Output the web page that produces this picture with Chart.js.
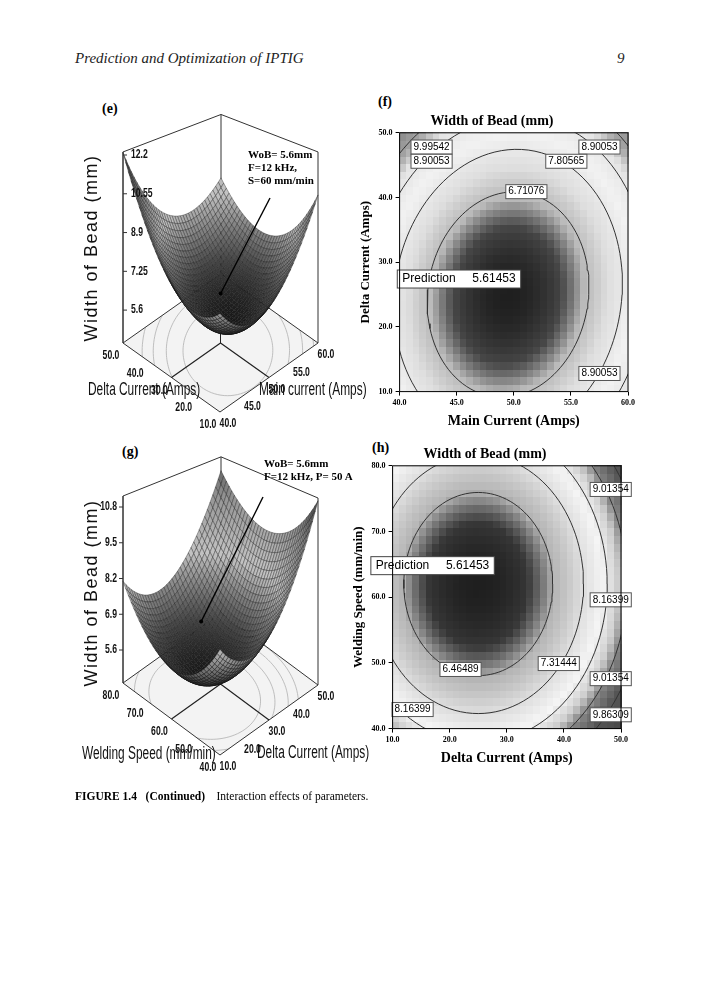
<!DOCTYPE html>
<html>
<head>
<meta charset="utf-8">
<script src="https://cdn.jsdelivr.net/npm/chart.js@4.4.1/dist/chart.umd.min.js"></script>
<style>
  body { margin: 0; background: #fff; }
  #page { position: relative; width: 701px; height: 1000px; overflow: hidden; font-family: 'Liberation Serif', serif; }
  .abs { position: absolute; white-space: nowrap; }
  canvas { position: absolute; }
  .hdr { font-style: italic; font-size: 15px; color: #222; }
  .let { font-weight: bold; font-size: 14px; }
  .note { font-weight: bold; font-size: 11px; line-height: 13px; }
  .ax3 { font-family: 'Liberation Sans', sans-serif; font-size: 18px; color: #111; transform-origin: 0 50%; transform: translateY(-50%) scaleX(0.66); }
  .zax { font-family: 'Liberation Sans', sans-serif; font-size: 18px; color: #111; letter-spacing: 1.5px; transform: translate(-50%,-50%) rotate(-90deg); }
</style>
</head>
<body>
<div id="page">
  <div class="abs hdr" style="left:75px;top:50px">Prediction and Optimization of IPTIG</div>
  <div class="abs hdr" style="left:617px;top:50px">9</div>

  <div class="abs let" style="left:102px;top:101px">(e)</div>
  <div class="abs let" style="left:378px;top:94px">(f)</div>
  <div class="abs let" style="left:122px;top:444px">(g)</div>
  <div class="abs let" style="left:372px;top:440px">(h)</div>

  <canvas id="chartE" style="left:60px;top:95px"></canvas>
  <canvas id="chartF" style="left:356px;top:110px"></canvas>
  <canvas id="chartG" style="left:60px;top:440px"></canvas>
  <canvas id="chartH" style="left:349px;top:443px"></canvas>

  <div class="abs note" style="left:248px;top:148px">WoB= 5.6mm<br>F=12 kHz,<br>S=60 mm/min</div>
  <div class="abs note" style="left:264px;top:457px">WoB= 5.6mm<br>F=12 kHz, P= 50 A</div>

  <div class="abs zax" style="left:91px;top:248px">Width of Bead (mm)</div>
  <div class="abs ax3" style="left:88px;top:389px">Delta Current (Amps)</div>
  <div class="abs ax3" style="left:259px;top:389px">Main current (Amps)</div>
  <div class="abs zax" style="left:91px;top:593px">Width of Bead (mm)</div>
  <div class="abs ax3" style="left:82px;top:753px">Welding Speed (mm/min)</div>
  <div class="abs ax3" style="left:257px;top:752px">Delta Current (Amps)</div>

  <div class="abs" style="left:75px;top:790px;font-size:11.5px"><b>FIGURE 1.4&nbsp;&nbsp;&nbsp;(Continued)</b>&nbsp;&nbsp;&nbsp;&nbsp;Interaction effects of parameters.</div>
</div>
<script>
// ---- data ----
const mainCurrentTicks = [40, 45, 50, 55, 60];
const deltaCurrentTicks = [10, 20, 30, 40, 50];
const weldSpeedTicks = [40, 50, 60, 70, 80];
const widthTicksE = [5.6, 7.25, 8.9, 10.55, 12.2];
const widthTicksG = [5.6, 6.9, 8.2, 9.5, 10.8];
const predictedWidth = 5.61453;

// quadratic models: [cx, cy, sx, sy, a, b, c, p, r, w0]
// W = w0 + a*u^2 + b*v^2 - c*u*v + p*u + r*v,  u=(x-cx)/sx, v=(y-cy)/sy

// contour plot (f): main current (x) vs delta current (y)
const levelsF = [6.71076, 7.80565, 8.90053, 9.99542];
const labelF_x = [42.8, 42.8, 57.5, 54.6, 51.1, 57.5];
const labelF_y = [47.8, 45.6, 47.8, 45.6, 40.9, 12.8];
const labelF_v = ['9.99542', '8.90053', '8.90053', '7.80565', '6.71076', '8.90053'];
const modelF = [49.5, 25, 10, 20, 2.2, 1.75, 0.3, 0, 0, predictedWidth];
const predF = [45.2, 27.4];

// contour plot (h): delta current (x) vs welding speed (y)
const levelsH = [6.46489, 7.31444, 8.16399, 9.01354, 9.86309];
const labelH_x = [48.2, 48.2, 39.1, 21.9, 48.2, 13.5, 48.2];
const labelH_y = [76.4, 59.6, 49.9, 49.0, 47.6, 42.9, 42.1];
const labelH_v = ['9.01354', '8.16399', '7.31444', '6.46489', '9.01354', '8.16399', '9.86309'];
const modelH = [25, 62, 20, 20, 2.0, 1.75, 0, 0, 0, predictedWidth];
const predH = [17.0, 64.8];

// 3D surfaces
const modelE = [50, 30, 10, 20, 2.2, 2.2, 1.475, -0.125, 0.775, 5.525]; // main, delta
const modelG = [30, 60, 20, 20, 2.2, 1.8, 0.225, 1.475, -0.025, 5.375]; // delta, speed
const floorLevelsE = [6.7, 7.8, 8.9, 10.0];
const floorLevelsG = [6.5, 7.3, 8.2, 9.0];
const pointerE = [52, 34];
const pointerG = [32, 70];

// grayscale stops (value -> gray level)
const stopsF_v = [5.6, 6.1, 6.6, 7.3, 8.3, 9.2, 9.8, 11];
const stopsF_g = [30, 70, 185, 222, 242, 228, 165, 125];
const stopsH_v = [5.6, 6.0, 6.5, 7.3, 8.0, 8.6, 9.0, 9.8, 11];
const stopsH_g = [30, 55, 180, 222, 245, 205, 135, 85, 70];
const stopsS_t = [0, 0.15, 0.45, 0.75, 1];
const stopsS_g = [25, 70, 195, 150, 75];

function width(m, x, y) {
  const u = (x - m[0]) / m[2], v = (y - m[1]) / m[3];
  return m[9] + m[4] * u * u + m[5] * v * v - m[6] * u * v + m[7] * u + m[8] * v;
}
function minOf(m) {
  const A = 2 * m[4], B = -m[6], C = 2 * m[5], det = A * C - B * B;
  const u = (-m[7] * C + m[8] * B) / det, v = (-m[8] * A + m[7] * B) / det;
  return { x: m[0] + u * m[2], y: m[1] + v * m[3], w: width(m, m[0] + u * m[2], m[1] + v * m[3]) };
}
function gray(val, sv, sg) {
  if (val <= sv[0]) return sg[0];
  for (let i = 1; i < sv.length; i++) {
    if (val <= sv[i]) {
      const t = (val - sv[i - 1]) / (sv[i] - sv[i - 1]);
      return Math.round(sg[i - 1] + t * (sg[i] - sg[i - 1]));
    }
  }
  return sg[sg.length - 1];
}
function contour(m, level) {
  const mn = minOf(m), d = level - mn.w, pts = [];
  for (let k = 0; k <= 120; k++) {
    const th = k / 120 * Math.PI * 2, cu = Math.cos(th), cv = Math.sin(th);
    const q = m[4] * cu * cu + m[5] * cv * cv - m[6] * cu * cv;
    const r = Math.sqrt(d / q);
    pts.push({ x: mn.x + r * cu * m[2], y: mn.y + r * cv * m[3] });
  }
  return pts;
}

// ---- contour charts ----
const heatPlugin = {
  id: 'heat',
  beforeDatasetsDraw(chart, args, o) {
    const { ctx, scales: { x, y } } = chart;
    const n = 34;
    const dx = (x.max - x.min) / n, dy = (y.max - y.min) / n;
    ctx.save();
    for (let i = 0; i < n; i++) for (let j = 0; j < n; j++) {
      const xv = x.min + (i + 0.5) * dx, yv = y.min + (j + 0.5) * dy;
      const g = gray(width(o.model, xv, yv), o.sv, o.sg);
      ctx.fillStyle = `rgb(${g},${g},${g})`;
      const x0 = x.getPixelForValue(x.min + i * dx), x1 = x.getPixelForValue(x.min + (i + 1) * dx);
      const y0 = y.getPixelForValue(y.min + j * dy), y1 = y.getPixelForValue(y.min + (j + 1) * dy);
      ctx.fillRect(Math.floor(x0), Math.floor(y1), Math.ceil(x1 - x0) + 1, Math.ceil(y0 - y1) + 1);
    }
    ctx.restore();
  },
  afterDatasetsDraw(chart, args, o) {
    const { ctx, chartArea: a, scales: { x, y } } = chart;
    ctx.save();
    ctx.font = '10px "Liberation Sans", sans-serif';
    ctx.textAlign = 'center'; ctx.textBaseline = 'middle';
    o.lx.forEach((lx, i) => {
      const px = x.getPixelForValue(lx), py = y.getPixelForValue(o.ly[i]);
      const w = ctx.measureText(o.lv[i]).width + 5;
      ctx.fillStyle = '#fff'; ctx.strokeStyle = '#555'; ctx.lineWidth = 1;
      ctx.fillRect(px - w / 2, py - 7, w, 14); ctx.strokeRect(px - w / 2, py - 7, w, 14);
      ctx.fillStyle = '#000'; ctx.fillText(o.lv[i], px, py);
    });
    ctx.font = '12px "Liberation Sans", sans-serif';
    const txt = 'Prediction     ' + predictedWidth.toFixed(5);
    const px = x.getPixelForValue(o.pred[0]), py = y.getPixelForValue(o.pred[1]);
    const w = ctx.measureText(txt).width + 10;
    ctx.fillStyle = '#fff'; ctx.strokeStyle = '#444';
    ctx.fillRect(px - w / 2, py - 9, w, 18); ctx.strokeRect(px - w / 2, py - 9, w, 18);
    ctx.fillStyle = '#000'; ctx.fillText(txt, px, py);
    ctx.strokeStyle = '#000'; ctx.lineWidth = 1;
    ctx.strokeRect(a.left, a.top, a.right - a.left, a.bottom - a.top);
    ctx.restore();
  }
};

function contourChart(id, w, h, levels, model, xr, yr, xticks, yticks, xtitle, ytitle, lx, ly, lv, pred, sv, sg) {
  const cv = document.getElementById(id);
  cv.width = w; cv.height = h; cv.style.width = w + 'px'; cv.style.height = h + 'px';
  const tickFont = { family: 'Liberation Serif', size: 8, weight: 'bold' };
  new Chart(cv, {
    type: 'scatter',
    data: {
      datasets: levels.map(l => ({
        data: contour(model, l), showLine: true, pointRadius: 0,
        borderColor: '#333', borderWidth: 1, tension: 0
      }))
    },
    options: {
      responsive: false, animation: false,
      layout: { padding: { right: 14, top: 3 } },
      plugins: {
        legend: { display: false }, tooltip: { enabled: false },
        title: { display: true, text: 'Width of Bead (mm)', color: '#000',
          font: { family: 'Liberation Serif', size: 14, weight: 'bold' }, padding: { top: 0, bottom: 3 } },
        heat: { model, sv, sg, lx, ly, lv, pred }
      },
      scales: {
        x: { type: 'linear', min: xr[0], max: xr[1], afterBuildTicks: s => { s.ticks = xticks.map(v => ({ value: v })); },
          ticks: { color: '#000', font: tickFont, callback: v => v.toFixed(1), maxRotation: 0 },
          grid: { drawOnChartArea: false, tickLength: 4, color: '#000' },
          title: { display: true, text: xtitle, color: '#000', font: { family: 'Liberation Serif', size: 14, weight: 'bold' }, padding: 2 } },
        y: { type: 'linear', min: yr[0], max: yr[1], afterBuildTicks: s => { s.ticks = yticks.map(v => ({ value: v })); },
          ticks: { color: '#000', font: tickFont, callback: v => v.toFixed(1) },
          grid: { drawOnChartArea: false, tickLength: 4, color: '#000' },
          title: { display: true, text: ytitle, color: '#000', font: { family: 'Liberation Serif', size: 13, weight: 'bold' }, padding: 2 } }
      }
    },
    plugins: [heatPlugin]
  });
}
contourChart('chartF', 286, 322, levelsF, modelF, [40, 60], [10, 50], mainCurrentTicks, deltaCurrentTicks,
  'Main Current (Amps)', 'Delta Current (Amps)', labelF_x, labelF_y, labelF_v, predF, stopsF_v, stopsF_g);
contourChart('chartH', 286, 326, levelsH, modelH, [10, 50], [40, 80], deltaCurrentTicks, weldSpeedTicks,
  'Delta Current (Amps)', 'Welding Speed (mm/min)', labelH_x, labelH_y, labelH_v, predH, stopsH_v, stopsH_g);

// ---- 3D surface charts ----
const surfPlugin = {
  id: 'surf',
  afterDatasetsDraw(chart, args, o) {
    const { ctx, scales: { x, y } } = chart;
    const P = (a1, a2, z) => {
      const t1 = (a1 - o.r1[0]) / (o.r1[1] - o.r1[0]), t2 = (a2 - o.r2[0]) / (o.r2[1] - o.r2[0]);
      const zs = o.zPx * (1 - 0.33 * ((t1 + t2) / 2 - 0.5));
      return [x.getPixelForValue(o.org[0] + t1 * o.v1[0] + t2 * o.v2[0]),
              y.getPixelForValue(o.org[1] + t1 * o.v1[1] + t2 * o.v2[1] - (z - o.zFloor) * zs)];
    };
    const line = (pts, col, lw) => {
      ctx.beginPath(); ctx.strokeStyle = col; ctx.lineWidth = lw;
      pts.forEach((p, i) => i ? ctx.lineTo(p[0], p[1]) : ctx.moveTo(p[0], p[1])); ctx.stroke();
    };
    const [a0, a1] = o.r1, [b0, b1] = o.r2, zf = o.zFloor, zt = o.zTop;
    const am = (a0 + a1) / 2, bm = (b0 + b1) / 2;
    ctx.save();
    // floor
    const fl = [P(a0, b0, zf), P(a1, b0, zf), P(a1, b1, zf), P(a0, b1, zf)];
    ctx.beginPath(); fl.forEach((p, i) => i ? ctx.lineTo(p[0], p[1]) : ctx.moveTo(p[0], p[1]));
    ctx.closePath(); ctx.fillStyle = '#f3f3f3'; ctx.fill();
    ctx.save(); ctx.clip();
    o.floorLevels.forEach(l => line(contour(o.model, l).map(p => P(p.x, p.y, zf)), '#b8b8b8', 0.9));
    ctx.restore();
    line([...fl, fl[0]], '#333', 1);
    line([P(a0, bm, zf), P(am, bm, zf), P(am, b0, zf)], '#222', 1.2);
    // box
    [[a0, b1], [a1, b1], [a1, b0]].forEach(c => line([P(c[0], c[1], zf), P(c[0], c[1], zt)], '#333', 1));
    line([P(a0, b1, zt), P(a1, b1, zt), P(a1, b0, zt)], '#333', 1);
    line([P(am, bm, zf), P(am, bm, zf + 1.3)], '#222', 1);
    // surface quads, back to front
    const n = 36, Z = [];
    for (let i = 0; i <= n; i++) { Z.push([]); for (let j = 0; j <= n; j++) {
      Z[i].push(width(o.model, a0 + (a1 - a0) * i / n, b0 + (b1 - b0) * j / n)); } }
    let zmax = 0; Z.forEach(r => r.forEach(z => zmax = Math.max(zmax, z)));
    const zmin = minOf(o.model).w;
    const cells = [];
    for (let i = 0; i < n; i++) for (let j = 0; j < n; j++) cells.push([i, j]);
    cells.sort((p, q) => (q[0] + q[1]) - (p[0] + p[1]));
    ctx.lineWidth = 0.5;
    cells.forEach(([i, j]) => {
      const u0 = a0 + (a1 - a0) * i / n, u1 = a0 + (a1 - a0) * (i + 1) / n;
      const v0 = b0 + (b1 - b0) * j / n, v1 = b0 + (b1 - b0) * (j + 1) / n;
      const q = [P(u0, v0, Z[i][j]), P(u1, v0, Z[i + 1][j]), P(u1, v1, Z[i + 1][j + 1]), P(u0, v1, Z[i][j + 1])];
      const zm = (Z[i][j] + Z[i + 1][j] + Z[i + 1][j + 1] + Z[i][j + 1]) / 4;
      const g = gray((zm - zmin) / (zmax - zmin), stopsS_t, stopsS_g);
      ctx.beginPath(); q.forEach((p, k) => k ? ctx.lineTo(p[0], p[1]) : ctx.moveTo(p[0], p[1])); ctx.closePath();
      ctx.fillStyle = `rgb(${g},${g},${g})`; ctx.fill();
      ctx.strokeStyle = 'rgba(20,20,20,0.7)'; ctx.stroke();
    });
    // pointer line from note (page coords) to prediction point
    const tp = P(o.pointer[0], o.pointer[1], width(o.model, o.pointer[0], o.pointer[1]));
    const np = [x.getPixelForValue(o.note[0]), y.getPixelForValue(o.note[1])];
    line([np, tp], '#000', 1.4);
    ctx.fillStyle = '#000'; ctx.beginPath(); ctx.arc(tp[0], tp[1], 2, 0, 7); ctx.fill();
    // z axis + ticks
    ctx.fillStyle = '#111'; ctx.textBaseline = 'middle';
    ctx.font = 'bold 12px "Liberation Sans", sans-serif';
    line([P(a0, b1, zf), P(a0, b1, zt)], '#333', 1);
    const sx = (txt, px, py) => { ctx.save(); ctx.translate(px, py); ctx.scale(0.72, 1); ctx.fillText(txt, 0, 0); ctx.restore(); };
    ctx.textAlign = o.zRight ? 'left' : 'right';
    o.zt.forEach(z => { const p = P(a0, b1, z);
      line([p, [p[0] + (o.zRight ? 4 : -4), p[1]]], '#333', 1);
      sx(z.toString(), p[0] + (o.zRight ? 8 : -6), p[1]); });
    ctx.textAlign = 'center';
    o.t1.forEach(v => { const p = P(v, b0, zf); sx(v.toFixed(1), p[0] + 8, p[1] + 12); });
    o.t2.forEach(v => { const p = P(a0, v, zf); sx(v.toFixed(1), p[0] - 12, p[1] + 13); });
    ctx.restore();
  }
};

function surfaceChart(id, left, top, w, h, opts) {
  const cv = document.getElementById(id);
  cv.width = w; cv.height = h; cv.style.width = w + 'px'; cv.style.height = h + 'px';
  new Chart(cv, {
    type: 'scatter',
    data: { datasets: [{ data: [] }] },
    options: {
      responsive: false, animation: false,
      layout: { padding: 0 },
      plugins: { legend: { display: false }, tooltip: { enabled: false }, surf: opts },
      scales: {
        x: { type: 'linear', display: false, min: left, max: left + w },
        y: { type: 'linear', display: false, min: top, max: top + h, reverse: true }
      }
    },
    plugins: [surfPlugin]
  });
}
surfaceChart('chartE', 60, 95, 290, 340, {
  r1: [40, 60], r2: [10, 50], org: [220, 412], v1: [98, -69], v2: [-97, -69],
  zFloor: 4.2, zTop: 12.33, zPx: 23.5, zt: widthTicksE, t1: mainCurrentTicks, t2: deltaCurrentTicks,
  model: modelE, floorLevels: floorLevelsE, note: [270, 198], pointer: pointerE, zRight: true
});
surfaceChart('chartG', 60, 440, 290, 335, {
  r1: [10, 50], r2: [40, 80], org: [220, 755], v1: [98, -70], v2: [-97, -72],
  zFloor: 4.4, zTop: 11.2, zPx: 27.5, zt: widthTicksG, t1: deltaCurrentTicks, t2: weldSpeedTicks,
  model: modelG, floorLevels: floorLevelsG, note: [263, 497], pointer: pointerG, zRight: false
});
</script>
</body>
</html>
